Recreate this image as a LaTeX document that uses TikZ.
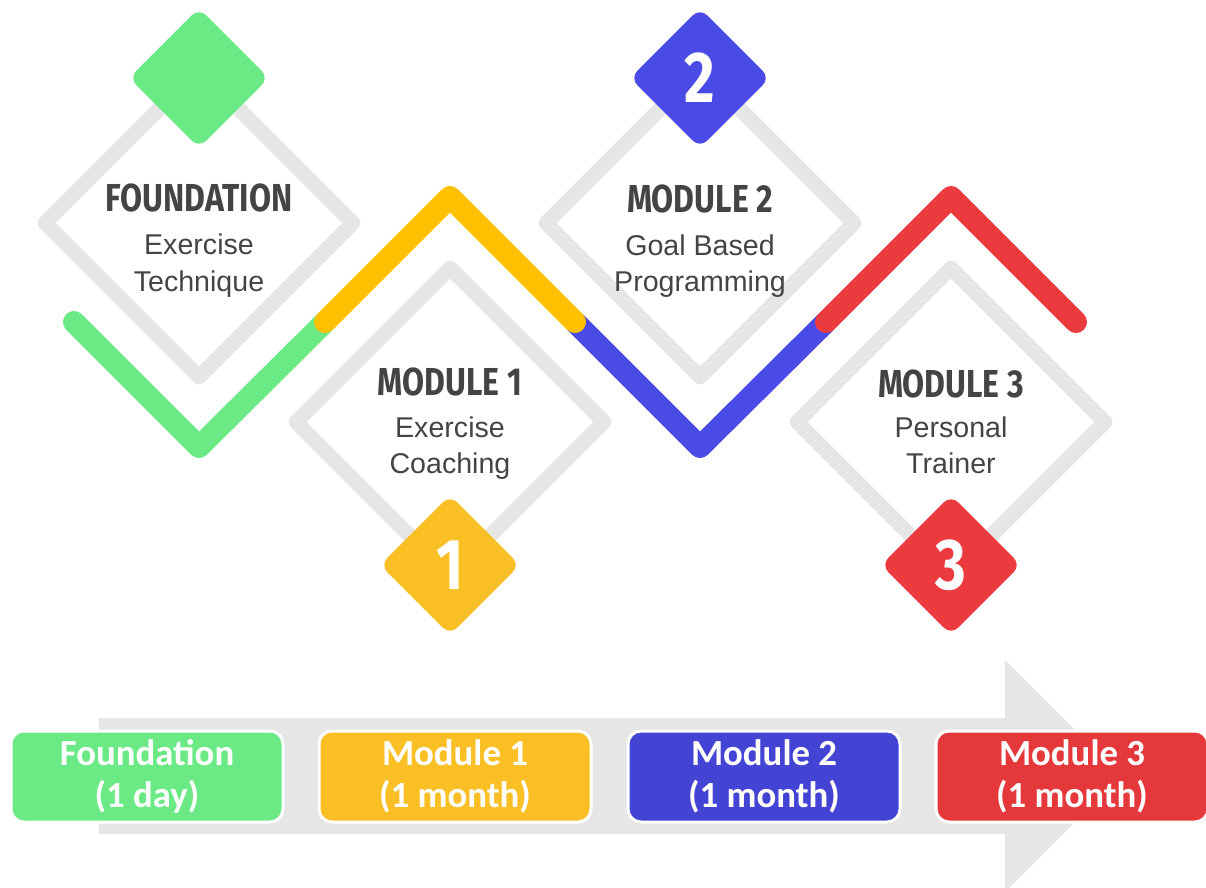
\documentclass[tikz,border=0pt]{standalone}
\usepackage{fontspec}
\usepackage{xcolor}
\usepackage{tikz}
\usetikzlibrary{shapes.geometric}
\setmainfont{Liberation Sans}
\newfontfamily\headfont[FakeStretch=0.82]{Fira Sans}
\newfontfamily\boxfont{Carlito}
\definecolor{S0}{HTML}{6AE985}
\definecolor{S1}{HTML}{FBBF26}
\definecolor{S2}{HTML}{4A4AE6}
\definecolor{S3}{HTML}{EC3B3E}
\definecolor{S1L}{HTML}{FFC000}
\definecolor{S2B}{HTML}{4444D4}
\definecolor{S3B}{HTML}{E5383B}
\definecolor{Ring}{HTML}{E6E6E6}
\definecolor{Ink}{HTML}{444444}
\tikzset{
  ringbox/.style={diamond, draw=Ring, line width=7.5pt, line join=round, minimum width=157pt, minimum height=157pt, inner sep=0pt},
  badge/.style={diamond, rounded corners=5pt, minimum width=70pt, minimum height=70pt, inner sep=0pt, text=white, font=\headfont\bfseries\fontsize{36}{36}\selectfont},
  headtxt/.style={anchor=base, text=Ink, inner sep=0pt, font=\headfont\bfseries\fontsize{19.5}{20}\selectfont},
  subtxt/.style={anchor=base, text=Ink, inner sep=0pt, font=\fontsize{14.3}{16}\selectfont},
  zigzag/.style={line width=11pt, line cap=round, line join=round},
  tagbox/.style={rounded corners=6.5pt, draw=white, line width=1.5pt, minimum width=136pt, minimum height=45.5pt, text=white, align=center, font=\boxfont\bfseries\fontsize{18.4}{21}\selectfont},
}
\begin{document}
\begin{tikzpicture}[x=0.5pt, y=-0.5pt]%
\useasboundingbox (0,0) rectangle (1206,888);%
% grey rings
\node[ringbox] (r0) at (199,223) {};%
\node[ringbox] (r1) at (450,422) {};%
\node[ringbox] (r2) at (700,223) {};%
\node[ringbox] (r3) at (951,422) {};%
% the coloured track
\draw[zigzag, S0] (74,322) -- (199,447) -- (325,322);%
\draw[zigzag, S2] (575,322) -- (700,447) -- (826,322);%
\draw[zigzag, S1L] (325,322) -- (450,197) -- (575,322);%
\draw[zigzag, S3] (826,322) -- (951,197) -- (1076,322);%
% number badges
\node[badge, fill=S0] (n0) at (199,78) {};%
\node[badge, fill=S1] (n1) at (450,565) {1};%
\node[badge, fill=S2] (n2) at (700,78) {2};%
\node[badge, fill=S3] (n3) at (951,565) {3};%
% texts
\node[headtxt] (t0) at (199,212) {FOUNDATION};%
\node[subtxt] (s0a) at (199,255) {Exercise};%
\node[subtxt] (s0b) at (199,292) {Technique};%
\node[headtxt] (t1) at (450,395) {MODULE 1};%
\node[subtxt] (s1a) at (450,437) {Exercise};%
\node[subtxt] (s1b) at (450,473) {Coaching};%
\node[headtxt] (t2) at (700,213) {MODULE 2};%
\node[subtxt] (s2a) at (700,256) {Goal Based};%
\node[subtxt] (s2b) at (700,292) {Programming};%
\node[headtxt] (t3) at (951,397) {MODULE 3};%
\node[subtxt] (s3a) at (951,437) {Personal};%
\node[subtxt] (s3b) at (951,473) {Trainer};%
% timeline arrow
\fill[Ring] (99,718) -- (1005,718) -- (1005,660) -- (1121,776) -- (1005,892) -- (1005,834) -- (99,834) -- cycle;%
\node[tagbox, fill=S0] (b0) at (147,776.5) {Foundation\\(1 day)};%
\node[tagbox, fill=S1] (b1) at (455,776.5) {Module 1\\(1 month)};%
\node[tagbox, fill=S2B] (b2) at (764,776.5) {Module 2\\(1 month)};%
\node[tagbox, fill=S3B] (b3) at (1072,776.5) {Module 3\\(1 month)};%
\end{tikzpicture}
\end{document}
